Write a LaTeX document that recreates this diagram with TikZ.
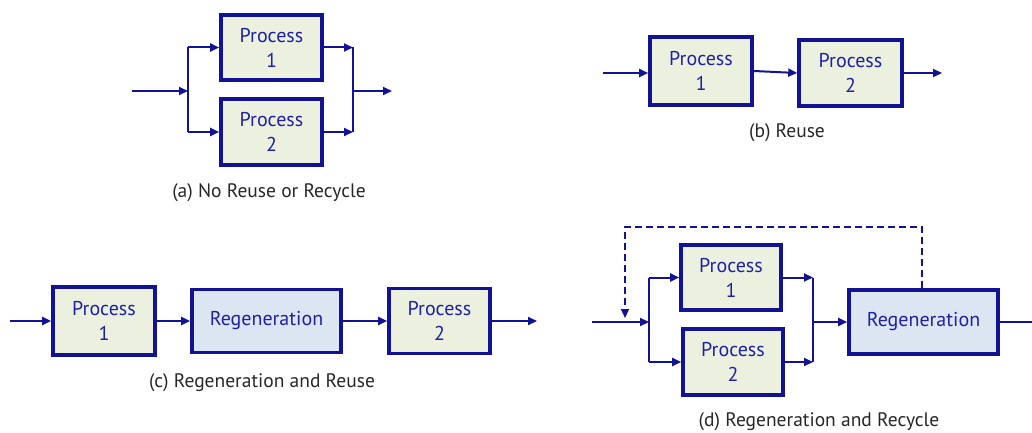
\documentclass[tikz,border=0pt]{standalone}
\usepackage{fontspec}
\setmainfont{PT Sans}
\usetikzlibrary{arrows.meta}
\definecolor{navy}{RGB}{18,18,148}
\definecolor{txtblue}{RGB}{32,32,165}
\definecolor{pfill}{RGB}{235,241,222}
\definecolor{rfill}{RGB}{220,230,242}
\tikzset{
  pbox/.style={draw=navy, line width=3.6pt, fill=pfill, text=txtblue, align=center, font=\fontsize{20}{25}\selectfont, inner sep=0pt},
  rbox/.style={pbox, fill=rfill},
  arr/.style={draw=navy, line width=2pt, -{Triangle[length=9pt,width=8pt]}},
  ln/.style={draw=navy, line width=2pt},
  dashln/.style={draw=navy, line width=2pt, dash pattern=on 7pt off 4pt, -{Triangle[length=9pt,width=8pt]}},
  captxt/.style={font=\fontsize{19.5}{23}\selectfont, text=black!85}
}
\begin{document}
\begin{tikzpicture}[x=1pt,y=-1pt]
\useasboundingbox (0,0) rectangle (1032,433);
% ---------- (a)
\node[pbox, minimum width=101pt, minimum height=65pt] (P1a) at (271.5,47.5) {Process\\1};
\node[pbox, minimum width=101pt, minimum height=66pt] (P2a) at (271.5,132) {Process\\2};
\coordinate (a0) at (132,91);
\coordinate (aJ) at (188,91);
\coordinate (aK) at (353,91);
\coordinate (aout) at (392,91);
\draw[arr] (a0) -- (aJ);
\draw[ln] (aJ |- P1a.west) -- (aJ |- P2a.west);
\draw[arr] (aJ |- P1a.west) -- (P1a.west);
\draw[arr] (aJ |- P2a.west) -- (P2a.west);
\draw[arr] (P1a.east) -- (aK |- P1a.east);
\draw[arr] (P2a.east) -- (aK |- P2a.east);
\draw[ln] (aK |- P1a.east) -- (aK |- P2a.east);
\draw[arr] (aK) -- (aout);
\node[captxt] (capa) at (269,193) {(a) No Reuse or Recycle};
% ---------- (b)
\node[pbox, minimum width=102pt, minimum height=68pt] (P1b) at (701,71) {Process\\1};
\node[pbox, minimum width=103pt, minimum height=66pt] (P2b) at (850.5,73) {Process\\2};
\coordinate (b0) at (603,73);
\coordinate (bout) at (942,73);
\draw[arr] (b0) -- (b0 -| P1b.west);
\draw[arr] (P1b.east) -- (P2b.west);
\draw[arr] (P2b.east) -- (bout);
\node[captxt] (capb) at (787,133) {(b) Reuse};
% ---------- (c)
\node[pbox, minimum width=102pt, minimum height=68pt] (P1c) at (104,321) {Process\\1};
\node[rbox, minimum width=149pt, minimum height=63pt] (Rc) at (266.5,321) {Regeneration};
\node[pbox, minimum width=101pt, minimum height=65pt] (P2c) at (439.5,321) {Process\\2};
\coordinate (c0) at (10,321);
\coordinate (cout) at (537,321);
\draw[arr] (c0) -- (c0 -| P1c.west);
\draw[arr] (P1c.east) -- (Rc.west);
\draw[arr] (Rc.east) -- (P2c.west);
\draw[arr] (P2c.east) -- (cout);
\node[captxt] (capc) at (262,383) {(c) Regeneration and Reuse};
% ---------- (d)
\node[pbox, minimum width=100pt, minimum height=65pt] (P1d) at (731,277.5) {Process\\1};
\node[pbox, minimum width=100pt, minimum height=66pt] (P2d) at (733,362) {Process\\2};
\node[rbox, minimum width=149pt, minimum height=64pt] (Rd) at (923.5,322) {Regeneration};
\coordinate (d0) at (592,322);
\coordinate (dJ) at (649,322);
\coordinate (dK) at (813,322);
\coordinate (dout) at (1034,322);
\coordinate (dtop) at (922,227);
\coordinate (dleft) at (625,227);
\coordinate (dend) at (625,318);
\draw[arr] (d0) -- (dJ);
\draw[ln] (dJ |- P1d.west) -- (dJ |- P2d.west);
\draw[arr] (dJ |- P1d.west) -- (P1d.west);
\draw[arr] (dJ |- P2d.west) -- (P2d.west);
\draw[arr] (P1d.east) -- (dK |- P1d.east);
\draw[arr] (P2d.east) -- (dK |- P2d.east);
\draw[ln] (dK |- P1d.east) -- (dK |- P2d.east);
\draw[arr] (dK) -- (Rd.west);
\draw[ln] (Rd.east) -- (dout);
\draw[dashln] (Rd.north -| dtop) -- (dtop) -- (dleft) -- (dend);
\node[captxt] (capd) at (819,422) {(d) Regeneration and Recycle};
\end{tikzpicture}
\end{document}
